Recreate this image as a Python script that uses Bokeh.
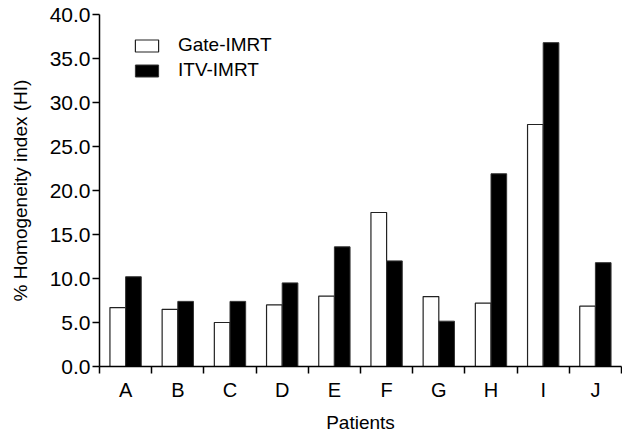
import numpy as np
from bokeh.plotting import figure
from bokeh.models import Range1d, FixedTicker, NumeralTickFormatter, Legend, LegendItem, ColumnDataSource
from bokeh.embed import file_html
from bokeh.resources import INLINE

patients = ["A", "B", "C", "D", "E", "F", "G", "H", "I", "J"]
gate_imrt = [6.7, 6.5, 5.0, 7.0, 8.0, 17.5, 7.95, 7.2, 27.5, 6.85]
itv_imrt = [10.2, 7.4, 7.4, 9.5, 13.6, 12.0, 5.15, 21.9, 36.8, 11.8]
y_ticks = [0, 5, 10, 15, 20, 25, 30, 35, 40]

FONT = "Liberation Sans"
n = len(patients)
centers = np.arange(n) + 0.5
bw = 0.3

src = ColumnDataSource(dict(
    xg=centers - bw / 2, xi=centers + bw / 2,
    gate=gate_imrt, itv=itv_imrt,
))

p = figure(frame_width=522, frame_height=352, output_backend="svg", toolbar_location=None,
           x_range=Range1d(0, n), y_range=Range1d(0, 40),
           min_border_left=99, min_border_right=1, min_border_top=14, min_border_bottom=68)
p.outline_line_color = None
p.xgrid.visible = False
p.ygrid.visible = False
p.background_fill_color = "white"
p.border_fill_color = "white"

r1 = p.vbar(x="xg", top="gate", width=bw, bottom=0, source=src,
            fill_color="white", line_color="#222222", line_width=1.2)
r2 = p.vbar(x="xi", top="itv", width=bw, bottom=0, source=src,
            fill_color="black", line_color="#333333", line_width=1)

# x axis
xa = p.xaxis[0]
xa.ticker = FixedTicker(ticks=list(centers), minor_ticks=list(range(n + 1)))
xa.major_label_overrides = {float(c): lab for c, lab in zip(centers, patients)}
xa.major_tick_out = 0
xa.major_tick_in = 0
xa.minor_tick_out = 7
xa.minor_tick_in = 0
xa.minor_tick_line_color = "black"
xa.minor_tick_line_width = 1.5
xa.axis_line_width = 1.5
xa.axis_line_color = "black"
xa.major_label_text_font = FONT
xa.major_label_text_font_size = "20px"
xa.major_label_text_color = "black"
xa.major_label_standoff = 5
xa.axis_label = "Patients"
xa.axis_label_text_font = FONT
xa.axis_label_text_font_size = "19px"
xa.axis_label_text_font_style = "normal"
xa.axis_label_text_color = "black"
xa.axis_label_standoff = 8

# y axis
ya = p.yaxis[0]
ya.ticker = FixedTicker(ticks=y_ticks, minor_ticks=[])
ya.formatter = NumeralTickFormatter(format="0.0")
ya.major_tick_out = 7
ya.major_tick_in = 0
ya.minor_tick_out = 0
ya.minor_tick_in = 0
ya.major_tick_line_width = 1.5
ya.major_tick_line_color = "black"
ya.axis_line_width = 1.5
ya.axis_line_color = "black"
ya.major_label_text_font = FONT
ya.major_label_text_font_size = "21px"
ya.major_label_text_color = "black"
ya.major_label_standoff = 2
ya.axis_label = "% Homogeneity index (HI)"
ya.axis_label_text_font = FONT
ya.axis_label_text_font_size = "19px"
ya.axis_label_text_font_style = "normal"
ya.axis_label_text_color = "black"
ya.axis_label_standoff = 16

legend = Legend(items=[LegendItem(label="Gate-IMRT", renderers=[r1]),
                       LegendItem(label="ITV-IMRT", renderers=[r2])],
                location=(33, 285))
legend.glyph_width = 29
legend.glyph_height = 15
legend.label_height = 15
legend.spacing = 3
legend.padding = 0
legend.margin = 0
legend.label_standoff = 17
legend.border_line_color = None
legend.background_fill_alpha = 0
legend.label_text_font = FONT
legend.label_text_font_size = "19px"
legend.label_text_color = "black"
p.add_layout(legend, "center")

open("out.html", "w").write(file_html(p, INLINE))
